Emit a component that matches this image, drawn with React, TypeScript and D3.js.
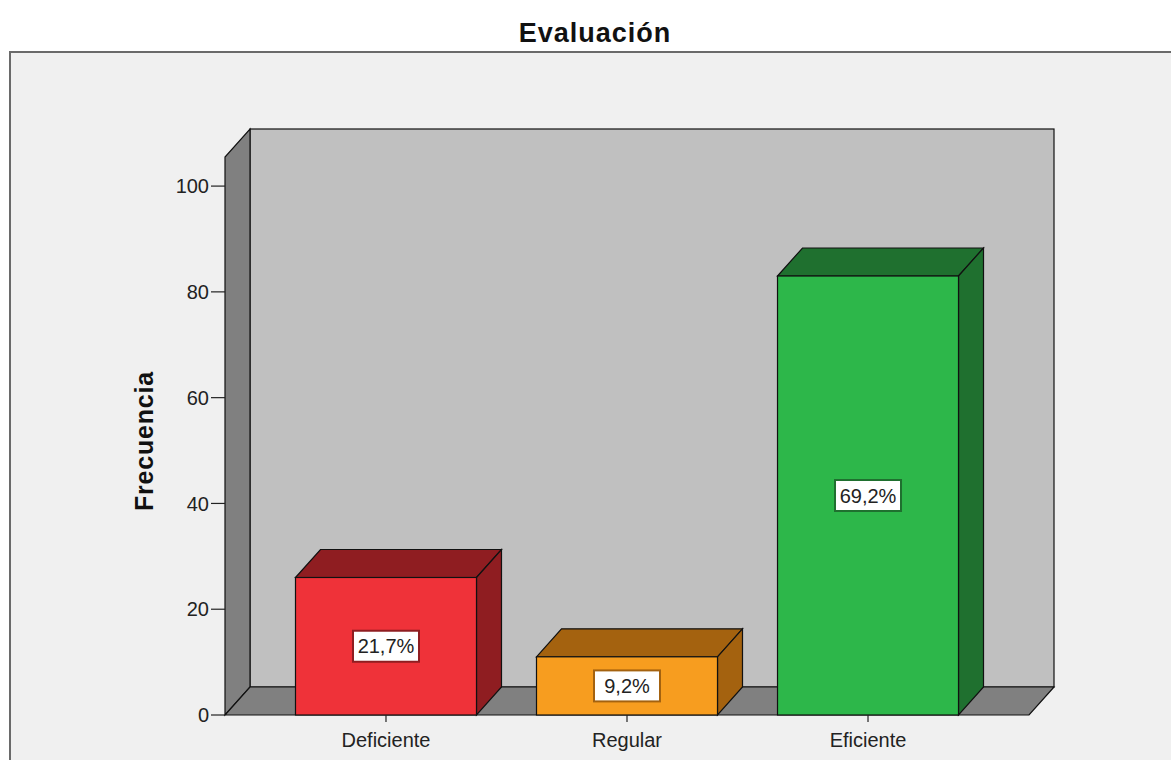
import React from "react";
import * as d3 from "d3";

const categories = ["Deficiente", "Regular", "Eficiente"];
const frequencies = [26, 11, 83];
const yTicks = [0, 20, 40, 60, 80, 100];
const frontColors = ["#ef3239", "#f79d1f", "#2db74a"];
const darkColors = ["#8f1d21", "#a4620f", "#1f702f"];

const W = 1171;
const H = 760;
const DX = 25;
const DY = 28;

export default function App() {
  const total = d3.sum(frequencies);
  const y = d3.scaleLinear().domain([0, 105.5]).range([715, 157]);
  const x = d3
    .scaleBand<string>()
    .domain(categories)
    .range([225, 1029])
    .paddingInner(0.249)
    .paddingOuter(0.2925);
  const y0 = y(0);
  const yTop = y(105.5);
  const xl = 225;
  const xr = 1029;
  const font = "'Liberation Sans', Arial, sans-serif";
  const pts = (p: number[][]) => p.map((d) => d.join(",")).join(" ");
  const fmt = (v: number) => (Math.round((v / total) * 1000) / 10).toFixed(1).replace(".", ",") + "%";

  return (
    <svg width={W} height={H} style={{ position: "absolute", left: 0, top: 0 }} fontFamily={font}>
      <rect x={0} y={0} width={W} height={H} fill="#ffffff" />
      <rect x={10} y={52} width={W + 20} height={H} fill="#f0f0f0" stroke="#6a6a6a" strokeWidth={2} />
      <text x={595} y={42} textAnchor="middle" fontSize={27} fontWeight="bold" letterSpacing={1} fill="#111">
        Evaluación
      </text>
      {/* back wall */}
      <rect x={xl + DX} y={yTop - DY} width={xr - xl} height={y0 - yTop} fill="#c0c0c0" stroke="#111" strokeWidth={1.2} />
      {/* left wall */}
      <polygon
        points={pts([[xl, y0], [xl, yTop], [xl + DX, yTop - DY], [xl + DX, y0 - DY]])}
        fill="#808080"
        stroke="#111"
        strokeWidth={1.2}
      />
      {/* floor */}
      <polygon
        points={pts([[xl, y0], [xr, y0], [xr + DX, y0 - DY], [xl + DX, y0 - DY]])}
        fill="#808080"
        stroke="#111"
        strokeWidth={1.2}
      />
      {/* y axis ticks */}
      {yTicks.map((t) => (
        <g key={t}>
          <line x1={211} x2={xl} y1={y(t)} y2={y(t)} stroke="#222" strokeWidth={1.2} />
          <text x={209} y={y(t)} dy="0.36em" textAnchor="end" fontSize={20} fill="#222">
            {t}
          </text>
        </g>
      ))}
      <text
        transform={`translate(153,441) rotate(-90)`}
        textAnchor="middle"
        fontSize={25}
        fontWeight="bold"
        letterSpacing={0.8}
        fill="#111"
      >
        Frecuencia
      </text>
      {/* bars */}
      {categories.map((c, i) => {
        const bx = x(c) as number;
        const bw = x.bandwidth();
        const top = y(frequencies[i]);
        const cx = bx + bw / 2;
        const cy = (top + y0) / 2;
        return (
          <g key={c}>
            <polygon
              points={pts([[bx, top], [bx + DX, top - DY], [bx + bw + DX, top - DY], [bx + bw, top]])}
              fill={darkColors[i]}
              stroke="#111"
              strokeWidth={1.2}
            />
            <polygon
              points={pts([[bx + bw, top], [bx + bw + DX, top - DY], [bx + bw + DX, y0 - DY], [bx + bw, y0]])}
              fill={darkColors[i]}
              stroke="#111"
              strokeWidth={1.2}
            />
            <rect x={bx} y={top} width={bw} height={y0 - top} fill={frontColors[i]} stroke="#111" strokeWidth={1.2} />
            <rect x={cx - 33} y={cy - 15.5} width={66} height={31} fill="#ffffff" stroke={darkColors[i]} strokeWidth={2} />
            <text x={cx} y={cy} dy="0.36em" textAnchor="middle" fontSize={20} fill="#222">
              {fmt(frequencies[i])}
            </text>
            <line x1={cx} x2={cx} y1={y0} y2={y0 + 7} stroke="#222" strokeWidth={1.2} />
            <text x={cx} y={747} textAnchor="middle" fontSize={20} fill="#222">
              {c}
            </text>
          </g>
        );
      })}
    </svg>
  );
}
